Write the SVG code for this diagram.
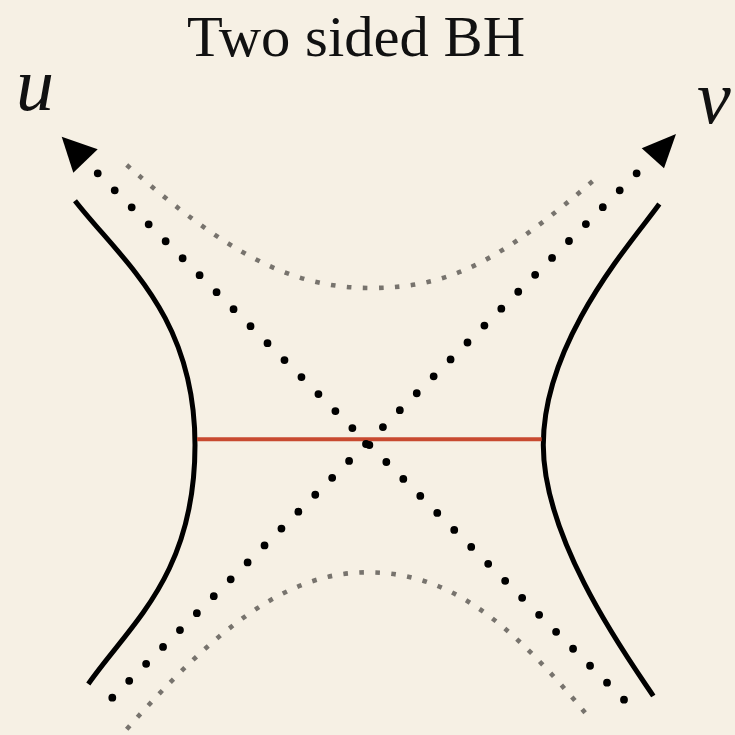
<svg xmlns="http://www.w3.org/2000/svg" width="735" height="735" viewBox="0 0 735 735">
<style>
.title{font-family:"Liberation Serif","Times New Roman",serif;font-size:58px;fill:#111}
.lbl{font-family:"Liberation Serif","Times New Roman",serif;font-style:italic;font-size:76px;fill:#111}
.horizon{fill:none;stroke:#000;stroke-width:5;stroke-linecap:butt}
.light{fill:none;stroke:#000;stroke-width:7.8;stroke-linecap:round}
.gray{fill:none;stroke:#77736d;stroke-width:4.6;stroke-linecap:butt;stroke-dasharray:4.6 11.4}
.slice{stroke:#c84a30;stroke-width:4}
.head{fill:#000}
</style>
<rect width="735" height="735" fill="#f6f0e4"/>
<text class="title" x="356" y="56" text-anchor="middle" textLength="338" lengthAdjust="spacingAndGlyphs">Two sided BH</text>
<g id="label-u"><text class="lbl" x="16" y="110">u</text></g>
<g id="label-v"><text class="lbl" x="697" y="123">v</text></g>
<g id="horizon-left"><path class="horizon" d="M75,200.7 C121.8,260.7 195,315 195,445 C195,575 130.3,624 88.3,684"/></g>
<g id="horizon-right"><path class="horizon" d="M659.3,204 C634.5,239 543.3,339 543.3,445 C543.3,545 636.5,670 653.3,696"/></g>
<g id="slice"><line class="slice" x1="197" y1="439.3" x2="541.7" y2="439.3"/></g>
<g id="connectors">
<path class="light" style="stroke-dasharray:0 24.01" d="M624,699.7 L97.7,173.3"/>
<path class="light" style="stroke-dasharray:0 23.92" d="M112.3,697.7 L636.7,173.3"/>
<polygon class="head" points="61.7,136.7 97.7,149.3 73.3,172.7"/>
<polygon class="head" points="676,134 641.7,148.3 664,168.3"/>
</g>
<g id="gray-top"><path class="gray" d="M126.7,165 C226.7,253 290.5,288 370.5,288 C450.5,288 501,261 601,174"/></g>
<g id="gray-bottom"><path class="gray" d="M126.7,729.3 C216.7,627.6 287,572.3 367,572.3 C447,572.3 506.7,617 591.7,720.7"/></g>
</svg>
